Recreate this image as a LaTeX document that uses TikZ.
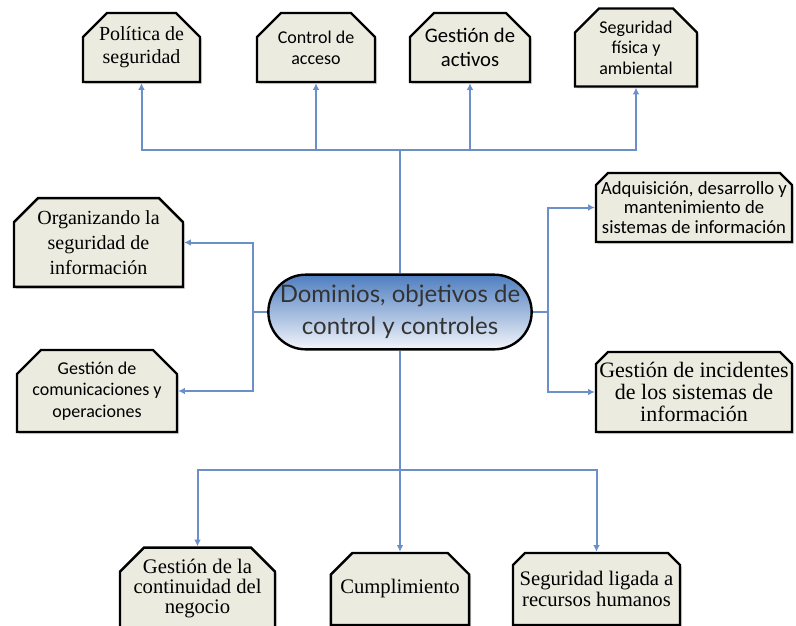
\documentclass[tikz,border=0pt]{standalone}
\usepackage{fontspec}
\setmainfont{Liberation Serif}
\newfontfamily\sanf{Carlito}
\newfontfamily\cenf{Lato}
\usetikzlibrary{shapes.misc,arrows.meta,shadows}
\definecolor{boxfill}{HTML}{EBEBE0}
\definecolor{connc}{HTML}{6B90C8}
\definecolor{cdark}{HTML}{4F7EC0}
\definecolor{clight}{HTML}{F2F5FA}
\newcommand\zw[1]{\makebox[0pt]{#1}}
\tikzset{
  dombox/.style={chamfered rectangle, chamfered rectangle corners={north west,north east},
    chamfered rectangle sep=9pt, draw=black, line width=1.8pt, fill=boxfill,
    align=center, inner sep=0pt,
    drop shadow={shadow xshift=1.5pt,shadow yshift=-1.5pt,opacity=0.3}},
  centre/.style={rounded rectangle, draw=black, line width=1.8pt, align=center,
    top color=cdark, bottom color=clight, inner sep=0pt,
    minimum width=197pt, minimum height=56pt,
    font=\cenf\fontsize{18}{24}\selectfont, text=black!80},
  sanA/.style={font=\sanf\fontsize{13.5}{15.5}\selectfont},
  conn/.style={draw=connc, line width=1.5pt},
  arr/.style={conn, -{Latex[length=5pt,width=5pt]}}
}
\begin{document}
\begin{tikzpicture}[x=0.75pt,y=-0.75pt]
\useasboundingbox (0,0) rectangle (796,625);
% centre
\node[centre] (c) at (400,312) {Dominios, objetivos de\\control y controles};
% top
\node[dombox,font=\fontsize{15}{17.5}\selectfont,minimum width=87.75pt,minimum height=51.75pt] (p1) at (141.5,47.5) {Política de\\seguridad};
\node[dombox,sanA,minimum width=88.5pt,minimum height=51.75pt] (p2) at (316,47.5) {Control de\\acceso};
\node[dombox,font=\sanf\fontsize{15.5}{17.5}\selectfont,minimum width=90pt,minimum height=51.75pt] (p3) at (470,47.5) {Gestión de\\activos};
\node[dombox,sanA,minimum width=91.5pt,minimum height=51.75pt] (p4) at (636,47.5) {Seguridad\\física y\\ambiental};
% left
\node[dombox,font=\fontsize{15}{19}\selectfont,minimum width=126.75pt,minimum height=53.25pt] (l1) at (98.5,242.5) {Organizando la\\seguridad de\\información};
\node[dombox,font=\sanf\fontsize{13.5}{16}\selectfont,minimum width=120pt,minimum height=51pt] (l2) at (97,391) {Gestión de\\comunicaciones y\\operaciones};
% right
\node[dombox,font=\sanf\fontsize{14}{14.8}\selectfont,minimum width=147pt,minimum height=51.75pt] (r1) at (694,207.5) {\zw{Adquisición, desarrollo y}\\\zw{mantenimiento de}\\\zw{sistemas de información}};
\node[dombox,font=\fontsize{16.5}{16.5}\selectfont,minimum width=147pt,minimum height=60pt] (r2) at (694,392) {\zw{Gestión de incidentes}\\\zw{de los sistemas de}\\\zw{información}};
% bottom
\node[dombox,font=\fontsize{15.5}{15}\selectfont,minimum width=116.25pt,minimum height=54pt] (b1) at (197.5,589) {Gestión de la\\continuidad del\\negocio};
\node[dombox,font=\fontsize{15.5}{17}\selectfont,minimum width=100.5pt,minimum height=54pt] (b2) at (400,589) {Cumplimiento};
\node[dombox,font=\fontsize{15.5}{15.5}\selectfont,minimum width=125.25pt,minimum height=54pt] (b3) at (596.5,589) {\zw{Seguridad ligada a}\\\zw{recursos humanos}};
% junctions
\coordinate (jt) at (400,150);
\coordinate (jl) at (253,312);
\coordinate (jr) at (548,312);
\coordinate (jb) at (400,470);
% connectors
\draw[conn] (c.north) -- (jt);
\draw[arr] (jt) -| (p1.south);
\draw[arr] (jt) -| (p2.south);
\draw[arr] (jt) -| (p3.south);
\draw[arr] (jt) -| (p4.south);
\draw[conn] (c.west) -- (jl);
\draw[arr] (jl) |- (l1.east);
\draw[arr] (jl) |- (l2.east);
\draw[conn] (c.east) -- (jr);
\draw[arr] (jr) |- (r1.west);
\draw[arr] (jr) |- (r2.west);
\draw[conn] (c.south) -- (jb);
\draw[arr] (jb) -| (b1.north);
\draw[arr] (jb) -- (b2.north);
\draw[arr] (jb) -| (b3.north);
\end{tikzpicture}
\end{document}
